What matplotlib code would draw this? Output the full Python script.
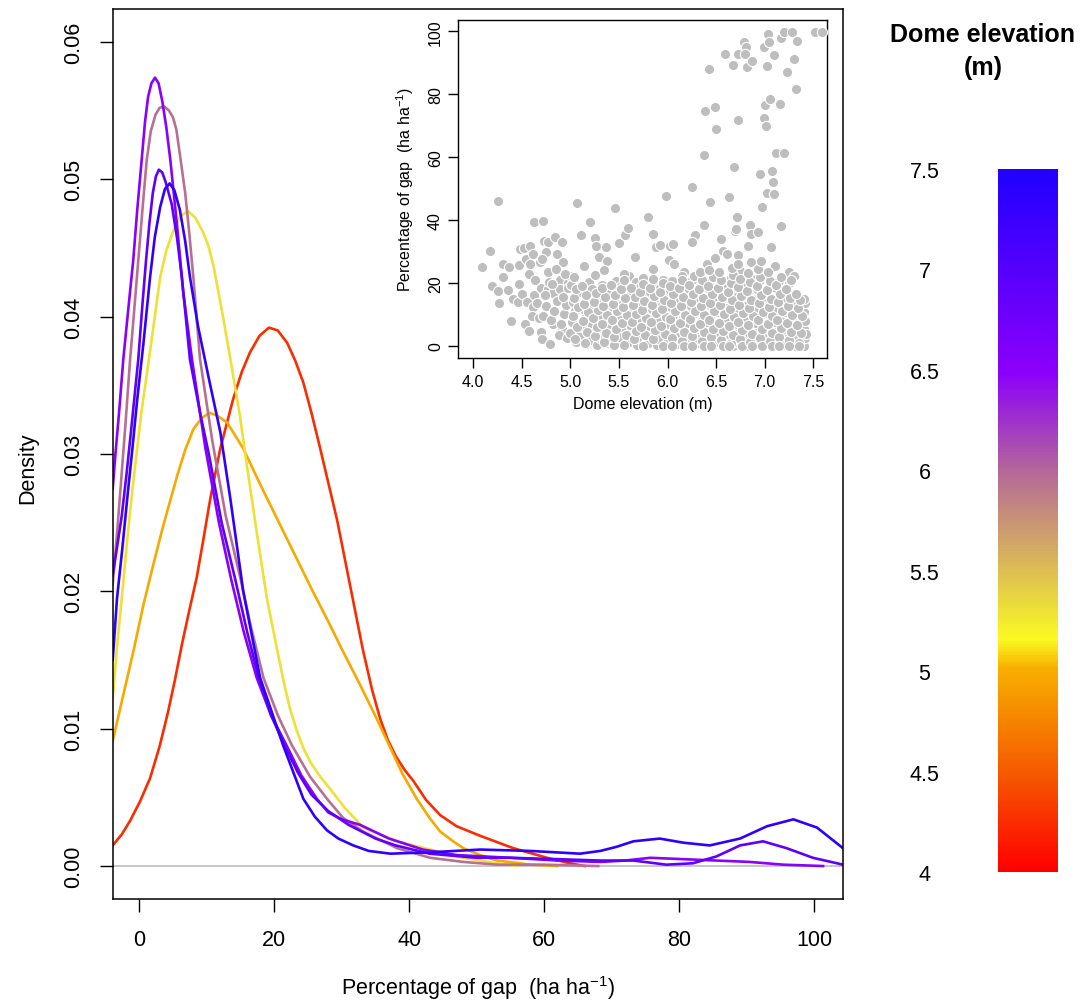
import matplotlib
matplotlib.use("Agg")
import matplotlib.pyplot as plt
import numpy as np
from matplotlib.colors import LinearSegmentedColormap, Normalize
from matplotlib.cm import ScalarMappable

plt.rcParams['font.family'] = ['Liberation Sans', 'DejaVu Sans']
plt.rcParams['mathtext.default'] = 'regular'

# dome elevation class of each density curve (m)
curve_elev = [4.25, 4.98, 5.3, 5.95, 6.5, 6.9, 7.35]

# density curves of percentage of gap, one per elevation class
red_x = [-3.94, -2.6, -1.36, 0.1, 1.6, 3.0, 4.25, 5.3, 6.3, 7.4, 8.5, 9.5, 10.5, 12.0, 13.9, 15.2, 16.4,
         17.8, 19.2, 20.5, 21.9, 23.1, 24.3, 25.5, 26.8, 29.3, 31.2, 33.1, 34.5, 35.7, 36.8, 38.0, 39.3,
         40.6, 42.5, 44.6, 47.0, 50.5, 55.4, 60.4, 63.8, 66.0]
red_d = [0.0015, 0.0023, 0.0033, 0.0047, 0.0064, 0.0087, 0.0112, 0.0136, 0.0161, 0.0186, 0.0210, 0.0238,
         0.0267, 0.0304, 0.0340, 0.0360, 0.0374, 0.0386, 0.0392, 0.0390, 0.0381, 0.0368, 0.0352, 0.0330,
         0.0304, 0.0252, 0.0205, 0.0158, 0.0128, 0.0107, 0.0092, 0.0080, 0.0070, 0.0062, 0.0048, 0.0037,
         0.0029, 0.0022, 0.0013, 0.0006, 0.0002, 0.0]

orange_x = [-3.94, -2.4, -0.8, 0.6, 2.0, 3.5, 5.6, 6.8, 8.0, 9.2, 10.4, 11.5, 13.0, 15.4, 17.9, 20.4,
            22.8, 25.7, 28.0, 30.0, 32.7, 35.0, 37.2, 39.0, 41.1, 43.0, 44.6, 46.5, 48.0, 50.5, 53.0,
            58.0, 61.9]
orange_d = [0.0091, 0.0124, 0.0158, 0.0190, 0.0218, 0.0247, 0.0284, 0.0303, 0.0318, 0.0326, 0.0330,
            0.0328, 0.0323, 0.0304, 0.0278, 0.0253, 0.0229, 0.0200, 0.0178, 0.0158, 0.0132, 0.0109,
            0.0086, 0.0067, 0.0049, 0.0035, 0.0025, 0.0018, 0.0013, 0.0008, 0.0004, 0.0001, 0.0]

yellow_x = [-3.94, -3.2, -2.4, -1.7, -1.0, 0.3, 1.6, 3.1, 4.0, 5.0, 6.1, 7.2, 8.3, 9.4, 10.2, 11.0,
            12.4, 13.5, 14.9, 15.9, 17.4, 18.9, 20.4, 21.4, 22.3, 23.3, 24.3, 25.3, 26.8, 28.3, 30.5,
            33.2, 38.2, 43.1, 48.0, 53.0, 56.0]
yellow_d = [0.0122, 0.0165, 0.0205, 0.0242, 0.0275, 0.0330, 0.0375, 0.0429, 0.0448, 0.0462, 0.0473,
            0.0477, 0.0472, 0.0462, 0.0452, 0.0437, 0.0400, 0.0369, 0.0328, 0.0293, 0.0243, 0.0195,
            0.0158, 0.0134, 0.0115, 0.0099, 0.0086, 0.0076, 0.0065, 0.0056, 0.0042, 0.0028, 0.0018,
            0.0012, 0.0006, 0.0002, 0.0]

mauve_x = [-3.94, -3.3, -2.7, -2.0, -1.36, -0.75, -0.15, 0.5, 1.1, 1.7, 2.4, 3.0, 3.7, 4.4, 5.0, 5.5,
           6.1, 6.8, 7.4, 8.0, 9.0, 10.8, 12.8, 15.0, 16.5, 18.4, 20.5, 22.6, 25.3, 27.8, 30.2, 33.2,
           38.2, 43.1, 48.0, 53.0, 60.0, 68.0]
mauve_d = [0.0205, 0.0242, 0.0280, 0.0325, 0.0369, 0.0405, 0.0441, 0.0480, 0.0514, 0.0535, 0.0547,
           0.0552, 0.0553, 0.0550, 0.0545, 0.0536, 0.0515, 0.0490, 0.0461, 0.0429, 0.0369, 0.0310,
           0.0255, 0.0209, 0.0175, 0.0137, 0.0110, 0.0088, 0.0065, 0.0049, 0.0035, 0.0025, 0.0013,
           0.0006, 0.0003, 0.0001, 0.0001, 0.0]

violet_x = [-3.94, -3.5, -3.0, -2.37, -1.6, -0.9, -0.3, 0.35, 0.85, 1.3, 1.8, 2.33, 2.85, 3.4, 4.0, 4.6,
            5.1, 5.6, 6.5, 7.8, 9.8, 11.8, 13.6, 15.5, 17.4, 19.5, 21.8, 24.0, 26.3, 28.0, 30.0, 32.7,
            37.0, 42.0, 47.0, 55.0, 62.0, 68.3, 72.0, 75.7, 80.6, 85.5, 90.4, 95.4, 101.3]
violet_d = [0.0275, 0.0302, 0.0330, 0.0369, 0.0407, 0.0441, 0.0478, 0.0514, 0.0542, 0.0560, 0.0570,
            0.0574, 0.0570, 0.0557, 0.0538, 0.0514, 0.0490, 0.0466, 0.0418, 0.0369, 0.0304, 0.0250,
            0.0209, 0.0170, 0.0137, 0.0110, 0.0088, 0.0066, 0.0049, 0.0039, 0.0034, 0.0030, 0.0020,
            0.0012, 0.0008, 0.0006, 0.0004, 0.0003, 0.0004, 0.0006, 0.0005, 0.0004, 0.0003, 0.0001, 0.0]

bviolet_x = [-3.94, -3.3, -2.6, -1.9, -1.2, -0.15, 0.45, 1.0, 1.5, 2.0, 2.45, 2.9, 3.4, 3.9, 4.8, 5.6,
             6.3, 7.5, 9.0, 10.3, 12.2, 14.2, 16.0, 17.7, 19.5, 21.5, 23.5, 25.5, 28.0, 31.0, 35.0, 38.0,
             43.0, 50.0, 55.0, 62.0, 68.3, 73.2, 78.1, 82.0, 85.5, 89.0, 92.4, 95.9, 99.8, 104.25]
bviolet_d = [0.0212, 0.0232, 0.0255, 0.0285, 0.0318, 0.0369, 0.0408, 0.0441, 0.0468, 0.0490, 0.0502,
             0.0507, 0.0505, 0.0498, 0.0482, 0.0457, 0.0429, 0.0369, 0.0330, 0.0300, 0.0250, 0.0209,
             0.0170, 0.0137, 0.0110, 0.0088, 0.0068, 0.0052, 0.0040, 0.0030, 0.0020, 0.0015, 0.0009,
             0.0006, 0.0006, 0.0005, 0.0004, 0.0004, 0.0001, 0.0002, 0.0007, 0.0015, 0.0018, 0.0013,
             0.0006, 0.0001]

blue_x = [-3.94, -3.3, -2.5, -1.8, -1.0, -0.3, 0.6, 1.6, 2.3, 3.1, 3.8, 4.5, 5.2, 6.0, 6.8, 7.5, 8.7,
          10.3, 12.0, 13.5, 15.4, 17.9, 21.3, 24.3, 26.0, 27.8, 29.5, 31.7, 34.0, 37.2, 43.1, 50.5, 57.9,
          65.3, 68.3, 70.7, 73.2, 77.1, 80.6, 84.5, 89.0, 93.0, 96.9, 100.4, 104.25]
blue_d = [0.0150, 0.0195, 0.0232, 0.0267, 0.0305, 0.0340, 0.0380, 0.0429, 0.0458, 0.0480, 0.0493, 0.0497,
          0.0492, 0.0478, 0.0455, 0.0429, 0.0393, 0.0355, 0.0316, 0.0267, 0.0200, 0.0137, 0.0088, 0.0049,
          0.0036, 0.0026, 0.0020, 0.0015, 0.0011, 0.0009, 0.0010, 0.0012, 0.0011, 0.0009, 0.0011, 0.0014,
          0.0018, 0.0020, 0.0017, 0.0015, 0.0020, 0.0029, 0.0034, 0.0028, 0.0013]

curves_x = [red_x, orange_x, yellow_x, mauve_x, violet_x, bviolet_x, blue_x]
curves_d = [red_d, orange_d, yellow_d, mauve_d, violet_d, bviolet_d, blue_d]

# inset scatter: isolated points
sparse_elev = [4.09, 4.17, 4.19, 4.25, 4.25, 4.26, 4.31, 4.31, 4.37, 4.36, 4.39, 4.41, 4.46, 4.48, 4.47,
               4.47, 4.50, 4.52, 4.54, 4.55, 4.53, 4.57, 4.58, 4.58, 4.57, 4.62, 4.63, 4.63, 4.62, 4.69,
               4.70, 4.72, 4.73, 4.70, 4.71, 4.77, 4.75, 4.77, 4.77, 4.79, 4.84, 4.82, 4.82, 4.86, 4.89,
               4.89, 4.91, 4.92, 4.91, 4.98, 5.01, 5.07, 5.07, 5.11, 5.14, 5.20, 5.25, 5.26, 5.29, 5.37,
               5.38, 5.46, 5.50, 5.56, 5.59, 5.60, 5.66, 5.80, 5.85, 5.88, 5.92, 5.98, 6.01, 6.02, 6.06,
               6.07, 6.17, 6.25, 6.28, 6.25, 6.33, 6.38, 6.38, 6.39, 6.43, 6.44, 6.41, 6.49, 6.50, 6.49,
               6.55, 6.57, 6.59, 6.63, 6.67, 6.68, 6.69, 6.70, 6.71, 6.72, 6.72, 6.73, 6.79, 6.81, 6.80,
               6.82, 6.87, 6.83, 6.85, 6.86, 6.93, 6.95, 6.97, 6.99, 6.99, 7.01, 7.02, 7.00, 7.02, 7.03,
               7.04, 7.05, 7.06, 7.07, 7.09, 7.10, 7.10, 7.11, 7.12, 7.16, 7.17, 7.17, 7.20, 7.20, 7.23,
               7.25, 7.28, 7.30, 7.30, 7.32, 7.33, 7.52, 7.59, 6.61]
sparse_gap = [24.9, 30.0, 19.1, 46.1, 17.5, 13.6, 26.0, 22.0, 24.9, 17.7, 8.0, 14.8, 14.0, 30.8, 25.8,
              19.6, 16.4, 31.0, 27.6, 13.8, 6.9, 4.8, 31.8, 26.0, 22.8, 29.2, 39.2, 16.1, 12.2, 26.5,
              18.2, 39.8, 33.4, 4.5, 2.1, 32.9, 29.7, 23.5, 18.0, 0.5, 34.5, 16.8, 6.9, 29.2, 20.9,
              18.0, 33.1, 26.5, 5.3, 20.1, 22.3, 45.3, 1.1, 35.3, 25.4, 39.4, 34.3, 31.8, 28.1, 31.3,
              27.0, 43.8, 32.6, 35.2, 37.6, 22.3, 28.1, 41.1, 35.4, 31.3, 32.0, 47.5, 27.4, 31.8, 32.3,
              26.0, 23.5, 50.4, 35.3, 32.9, 23.9, 38.4, 60.7, 74.8, 88.0, 45.8, 26.0, 75.8, 68.9, 27.8,
              34.1, 30.2, 92.8, 47.2, 89.3, 56.7, 36.6, 37.1, 40.8, 92.8, 71.8, 28.8, 96.7, 95.1, 92.8,
              88.5, 90.7, 31.8, 38.4, 35.5, 36.3, 54.6, 44.0, 72.4, 94.9, 70.0, 48.6, 76.6, 89.1, 99.2,
              96.5, 78.5, 31.3, 55.7, 52.2, 92.5, 48.2, 25.4, 61.3, 76.9, 97.9, 38.2, 61.3, 99.7, 87.0,
              23.3, 99.7, 91.2, 22.3, 81.7, 97.0, 99.7, 99.7, 29.2]

# inset scatter: dense cloud of low gap values
cloud_elev = [4.60, 4.66, 4.64, 4.68, 4.72, 4.75, 4.74, 4.78, 4.71,
              4.80, 4.83, 4.86, 4.81, 4.88, 4.85,
              4.90, 4.93, 4.95, 4.92, 4.97, 4.96, 4.94,
              5.00, 5.02, 5.05, 5.03, 5.07, 5.01, 5.06, 5.04,
              5.10, 5.12, 5.15, 5.13, 5.17, 5.11, 5.16, 5.19,
              5.20, 5.23, 5.21, 5.26, 5.24, 5.28, 5.22, 5.27, 5.25,
              5.30, 5.33, 5.31, 5.36, 5.34, 5.38, 5.32, 5.37, 5.35,
              5.40, 5.43, 5.41, 5.46, 5.44, 5.48, 5.42, 5.47, 5.45,
              5.50, 5.53, 5.51, 5.56, 5.54, 5.58, 5.52, 5.57, 5.55,
              5.60, 5.63, 5.61, 5.66, 5.64, 5.68, 5.62, 5.67, 5.69,
              5.70, 5.73, 5.71, 5.76, 5.74, 5.78, 5.72, 5.77, 5.75,
              5.80, 5.83, 5.81, 5.86, 5.84, 5.88, 5.82, 5.87, 5.89, 5.85,
              5.90, 5.93, 5.91, 5.96, 5.94, 5.98, 5.92, 5.97, 5.95,
              6.00, 6.03, 6.01, 6.06, 6.04, 6.08, 6.02, 6.07, 6.05, 6.09,
              6.10, 6.13, 6.11, 6.16, 6.14, 6.18, 6.12, 6.17, 6.19, 6.15,
              6.20, 6.23, 6.21, 6.26, 6.24, 6.28, 6.22, 6.27, 6.25, 6.29,
              6.30, 6.33, 6.31, 6.36, 6.34, 6.38, 6.32, 6.37, 6.39, 6.35, 6.31,
              6.40, 6.43, 6.41, 6.46, 6.44, 6.48, 6.42, 6.47, 6.45, 6.49, 6.42, 6.46,
              6.50, 6.53, 6.51, 6.56, 6.54, 6.58, 6.52, 6.57, 6.59, 6.55, 6.51, 6.58, 6.53,
              6.60, 6.63, 6.61, 6.66, 6.64, 6.68, 6.62, 6.67, 6.65, 6.69, 6.61, 6.64, 6.67, 6.62,
              6.70, 6.73, 6.71, 6.76, 6.74, 6.78, 6.72, 6.77, 6.79, 6.75, 6.71, 6.77, 6.73, 6.76,
              6.80, 6.83, 6.81, 6.86, 6.84, 6.88, 6.82, 6.87, 6.85, 6.89, 6.81, 6.84, 6.87, 6.83,
              6.90, 6.93, 6.91, 6.96, 6.94, 6.98, 6.92, 6.97, 6.95, 6.99, 6.91, 6.94, 6.97, 6.95,
              7.00, 7.03, 7.01, 7.06, 7.04, 7.08, 7.02, 7.07, 7.09, 7.05, 7.01, 7.04, 7.07, 7.03,
              7.10, 7.13, 7.11, 7.16, 7.14, 7.18, 7.12, 7.17, 7.15, 7.19, 7.11, 7.14, 7.17, 7.13,
              7.20, 7.23, 7.21, 7.26, 7.24, 7.28, 7.22, 7.27, 7.25, 7.29, 7.21, 7.24, 7.27,
              7.30, 7.33, 7.31, 7.36, 7.34, 7.38, 7.32, 7.37, 7.35, 7.39, 7.33, 7.31,
              7.40, 7.41, 7.40, 7.41, 7.40, 7.41, 7.40, 7.42]
cloud_gap = [9.5, 13.5, 21.0, 8.8, 9.4, 12.7, 16.0, 20.4, 27.5,
             8.1, 11.0, 14.2, 19.7, 3.3, 24.3,
             6.8, 10.2, 12.8, 15.6, 18.5, 2.5, 22.7,
             4.1, 7.5, 10.9, 13.9, 16.5, 19.2, 1.2, 22.0,
             3.3, 6.1, 8.7, 11.8, 14.6, 17.1, 0.5, 20.3,
             1.8, 4.7, 7.2, 10.1, 12.7, 15.2, 18.0, 0.3, 22.5,
             2.6, 5.5, 8.4, 11.3, 13.9, 16.6, 19.4, 0.8, 24.0,
             1.5, 4.0, 6.9, 9.6, 12.2, 14.9, 17.5, 20.6, 0.2,
             2.9, 5.8, 8.5, 11.0, 13.6, 16.3, 19.1, 0.6, 22.9,
             1.2, 3.9, 6.6, 9.3, 12.0, 14.6, 17.3, 20.2, 0.1,
             2.4, 5.1, 7.9, 10.6, 13.2, 15.9, 18.7, 0.4, 21.6,
             1.0, 3.6, 6.3, 9.0, 11.6, 14.3, 17.0, 19.8, 0.2, 24.5,
             2.2, 4.9, 7.6, 10.3, 12.9, 15.6, 18.3, 0.3, 21.0,
             1.4, 4.2, 7.0, 9.7, 12.4, 15.0, 17.8, 0.2, 20.7, 3.1,
             0.6, 3.3, 6.0, 8.8, 11.5, 14.1, 16.8, 19.6, 0.1, 22.2,
             1.9, 4.6, 7.3, 10.0, 12.6, 15.3, 18.1, 0.2, 20.8, 5.8,
             0.9, 3.7, 6.4, 9.1, 11.8, 14.5, 17.2, 19.9, 0.1, 8.0, 2.2,
             2.0, 4.8, 7.5, 10.2, 12.9, 15.6, 18.4, 0.1, 21.1, 6.0, 13.8, 0.0,
             1.1, 3.8, 6.5, 9.2, 11.9, 14.6, 17.3, 20.1, 0.0, 16.0, 10.8, 4.9, 22.5,
             2.3, 5.0, 7.7, 10.4, 13.1, 15.8, 18.6, 0.0, 21.4, 8.9, 12.0, 3.4, 17.0, 0.0,
             1.3, 4.0, 6.8, 9.5, 12.2, 14.9, 17.7, 20.5, 0.0, 23.8, 11.0, 6.2, 15.9, 2.8,
             2.6, 5.3, 8.0, 10.7, 13.4, 16.1, 18.9, 0.0, 21.7, 9.4, 12.6, 3.9, 14.8, 0.0,
             1.6, 4.3, 7.1, 9.8, 12.5, 15.2, 18.0, 0.0, 20.8, 6.2, 11.3, 2.9, 16.7, 23.0,
             0.8, 3.5, 6.2, 8.9, 11.6, 14.3, 17.1, 19.9, 0.0, 5.0, 10.3, 13.0, 2.2, 21.5,
             2.1, 4.8, 7.5, 10.2, 12.9, 15.6, 18.4, 0.0, 20.5, 8.6, 11.9, 3.4, 14.2, 0.0,
             1.3, 4.0, 6.7, 9.4, 12.1, 14.8, 17.6, 0.0, 20.0, 5.5, 10.8, 2.6, 16.0,
             0.5, 3.2, 5.9, 8.6, 11.3, 14.0, 16.5, 0.0, 10.0, 4.6, 13.0, 0.0,
             0.0, 2.5, 5.2, 8.0, 10.7, 13.5, 15.0, 3.8]

# second layer of the dense cloud (points hidden between the first layer)
cloud2_elev = [5.05, 5.07, 5.03, 5.08, 5.04, 5.06,
               5.15, 5.17, 5.13, 5.18, 5.14, 5.16, 5.12,
               5.25, 5.27, 5.23, 5.28, 5.24, 5.26,
               5.35, 5.37, 5.33, 5.38, 5.34, 5.36, 5.32,
               5.45, 5.47, 5.43, 5.48, 5.44, 5.46, 5.42,
               5.55, 5.57, 5.53, 5.58, 5.54, 5.56, 5.52, 5.55,
               5.65, 5.67, 5.63, 5.68, 5.64, 5.66, 5.62,
               5.75, 5.77, 5.73, 5.78, 5.74, 5.76, 5.72, 5.75,
               5.85, 5.87, 5.83, 5.88, 5.84, 5.86, 5.82, 5.85,
               5.95, 5.97, 5.93, 5.98, 5.94, 5.96, 5.92, 5.95,
               6.05, 6.07, 6.03, 6.08, 6.04, 6.06, 6.02, 6.05,
               6.15, 6.17, 6.13, 6.18, 6.14, 6.16, 6.12, 6.15, 6.17,
               6.25, 6.27, 6.23, 6.28, 6.24, 6.26, 6.22, 6.25, 6.27,
               6.35, 6.37, 6.33, 6.38, 6.34, 6.36, 6.32, 6.35, 6.37, 6.33,
               6.45, 6.47, 6.43, 6.48, 6.44, 6.46, 6.42, 6.45, 6.47, 6.43,
               6.55, 6.57, 6.53, 6.58, 6.54, 6.56, 6.52, 6.55, 6.57, 6.53,
               6.65, 6.67, 6.63, 6.68, 6.64, 6.66, 6.62, 6.65, 6.67, 6.63, 6.66,
               6.75, 6.77, 6.73, 6.78, 6.74, 6.76, 6.72, 6.75, 6.77, 6.73,
               6.85, 6.87, 6.83, 6.88, 6.84, 6.86, 6.82, 6.85, 6.87, 6.83, 6.86,
               6.95, 6.97, 6.93, 6.98, 6.94, 6.96, 6.92, 6.95, 6.97, 6.93, 6.96,
               7.05, 7.07, 7.03, 7.08, 7.04, 7.06, 7.02, 7.05, 7.07, 7.03,
               7.15, 7.17, 7.13, 7.18, 7.14, 7.16, 7.12, 7.15, 7.17,
               7.25, 7.27, 7.23, 7.28, 7.24, 7.26, 7.22, 7.25, 7.27,
               7.35, 7.37, 7.33, 7.38, 7.34, 7.36, 7.32, 7.35]
cloud2_gap = [2.0, 5.8, 9.3, 12.4, 15.3, 18.1,
              1.0, 4.4, 7.8, 10.6, 13.2, 16.0, 19.0,
              3.1, 6.0, 8.9, 11.5, 14.0, 16.9,
              1.2, 4.2, 7.0, 9.9, 12.6, 15.4, 18.2,
              2.8, 5.4, 8.1, 10.9, 13.4, 16.2, 19.3,
              0.3, 3.4, 7.2, 9.8, 12.4, 15.1, 17.9, 21.0,
              2.0, 4.8, 7.4, 10.1, 12.9, 15.6, 18.4,
              0.0, 3.3, 6.1, 8.8, 11.5, 14.2, 17.0, 19.6,
              2.2, 4.9, 7.6, 10.3, 12.9, 15.7, 18.5, 21.3,
              0.0, 3.6, 6.3, 9.0, 11.7, 14.4, 17.2, 19.9,
              2.5, 5.6, 8.4, 11.0, 13.7, 16.4, 19.1, 0.0,
              1.6, 4.4, 7.1, 9.9, 12.7, 15.4, 18.2, 21.0, 0.0,
              3.0, 5.7, 8.5, 11.2, 13.9, 16.6, 19.4, 0.0, 22.1,
              1.5, 4.3, 7.0, 9.8, 12.6, 15.3, 18.0, 20.8, 0.0, 23.5,
              2.7, 5.4, 8.2, 11.0, 13.6, 16.4, 19.1, 0.0, 21.9, 24.2,
              1.9, 4.6, 7.3, 10.1, 12.8, 15.5, 18.3, 21.0, 0.0, 23.6,
              0.9, 3.5, 6.3, 9.0, 11.7, 14.4, 17.2, 19.9, 22.5, 0.0, 24.8,
              2.2, 5.0, 7.7, 10.4, 13.1, 15.8, 18.6, 21.3, 0.0, 26.0,
              1.2, 3.8, 6.6, 9.3, 12.0, 14.7, 17.5, 20.2, 0.0, 23.0, 26.5,
              2.6, 5.4, 8.1, 10.8, 13.5, 16.2, 19.0, 21.8, 0.0, 24.5, 26.8,
              1.5, 4.2, 6.9, 9.6, 12.3, 15.0, 17.8, 20.6, 0.0, 23.4,
              2.8, 5.6, 8.3, 11.0, 13.8, 16.5, 19.3, 0.0, 22.0,
              1.7, 4.5, 7.2, 9.9, 12.6, 15.3, 18.1, 0.0, 20.9,
              1.0, 3.9, 6.6, 9.3, 12.0, 14.7, 16.5, 0.0]

dome_elev = sparse_elev + cloud_elev + cloud2_elev
gap_pct = sparse_gap + cloud_gap + cloud2_gap

cbar_ticks = [4, 4.5, 5, 5.5, 6, 6.5, 7, 7.5]
cbar_labels = ['4', '4.5', '5', '5.5', '6', '6.5', '7', '7.5']

# colour ramp red -> orange -> yellow -> mauve -> violet -> blue
ramp = LinearSegmentedColormap.from_list(
    'dome', [(0.0, '#FF0000'), (0.14, '#F55A00'), (0.29, '#F8B000'), (0.33, '#FAFA22'),
             (0.57, '#B46898'), (0.71, '#8C00FA'), (1.0, '#2000FF')])
norm = Normalize(vmin=4, vmax=7.5)

fig = plt.figure(figsize=(10.82, 10.03), dpi=100)
ax = fig.add_axes([0.10416, 0.10269, 0.67495, 0.88734])

ax.axhline(0, color='#BEBEBE', lw=1.2, zorder=1)
for xs, ds, e in zip(curves_x, curves_d, curve_elev):
    ax.plot(xs, ds, color=ramp(norm(e)), lw=1.9, solid_joinstyle='round', zorder=2)

ax.set_xlim(-3.94, 104.25)
ax.set_ylim(-0.0024, 0.0624)
ax.set_xticks([0, 20, 40, 60, 80, 100])
ax.set_yticks([0, 0.01, 0.02, 0.03, 0.04, 0.05, 0.06])
ax.set_yticklabels(['0.00', '0.01', '0.02', '0.03', '0.04', '0.05', '0.06'],
                   rotation=90, va='center')
ax.tick_params(direction='out', length=9.5, width=1, labelsize=15.5, pad=11)
ax.tick_params(axis='x', pad=12)
for s in ax.spines.values():
    s.set_linewidth(1.1)

fig.text(478 / 1082, 1 - 988 / 1003, r'Percentage of gap  (ha ha$^{-1}$)',
         ha='center', va='center', fontsize=15.5)
fig.text(28 / 1082, 1 - 468 / 1003, 'Density', rotation=90,
         ha='center', va='center', fontsize=15.5)

# inset scatter
ins = fig.add_axes([0.42357, 0.64178, 0.34048, 0.33759])
ins.scatter(dome_elev, gap_pct, s=54, c='#BEBEBE', edgecolors='white', linewidths=0.8, zorder=3)
ins.set_xlim(3.846, 7.638)
ins.set_ylim(-4.0, 103.7)
ins.set_xticks([4.0, 4.5, 5.0, 5.5, 6.0, 6.5, 7.0, 7.5])
ins.set_xticklabels(['4.0', '4.5', '5.0', '5.5', '6.0', '6.5', '7.0', '7.5'])
ins.set_yticks([0, 20, 40, 60, 80, 100])
ins.set_yticklabels(['0', '20', '40', '60', '80', '100'], rotation=90, va='center')
ins.tick_params(direction='out', length=7, width=1, labelsize=11.5, pad=4)
for s in ins.spines.values():
    s.set_linewidth(1.0)
fig.text(642.5 / 1082, 1 - 405 / 1003, 'Dome elevation (m)', ha='center', va='center', fontsize=11.5)
fig.text(405 / 1082, 1 - 190 / 1003, r'Percentage of gap  (ha ha$^{-1}$)', rotation=90,
         ha='center', va='center', fontsize=11.5)

# colour legend
cax = fig.add_axes([0.92237, 0.12961, 0.05545, 0.70090])
cb = fig.colorbar(ScalarMappable(norm=norm, cmap=ramp), cax=cax)
cb.outline.set_visible(False)
cax.yaxis.set_ticks_position('left')
cax.set_yticks(cbar_ticks)
cax.set_yticklabels(cbar_labels)
cax.tick_params(length=0, labelsize=15.5, pad=53)
for lab in cax.get_yticklabels():
    lab.set_horizontalalignment('center')
fig.text(983 / 1082, 1 - 35 / 1003, 'Dome elevation', ha='center', va='center',
         fontsize=18, fontweight='bold')
fig.text(983 / 1082, 1 - 68 / 1003, '(m)', ha='center', va='center',
         fontsize=18, fontweight='bold')

fig.savefig('out.png', dpi=100)
